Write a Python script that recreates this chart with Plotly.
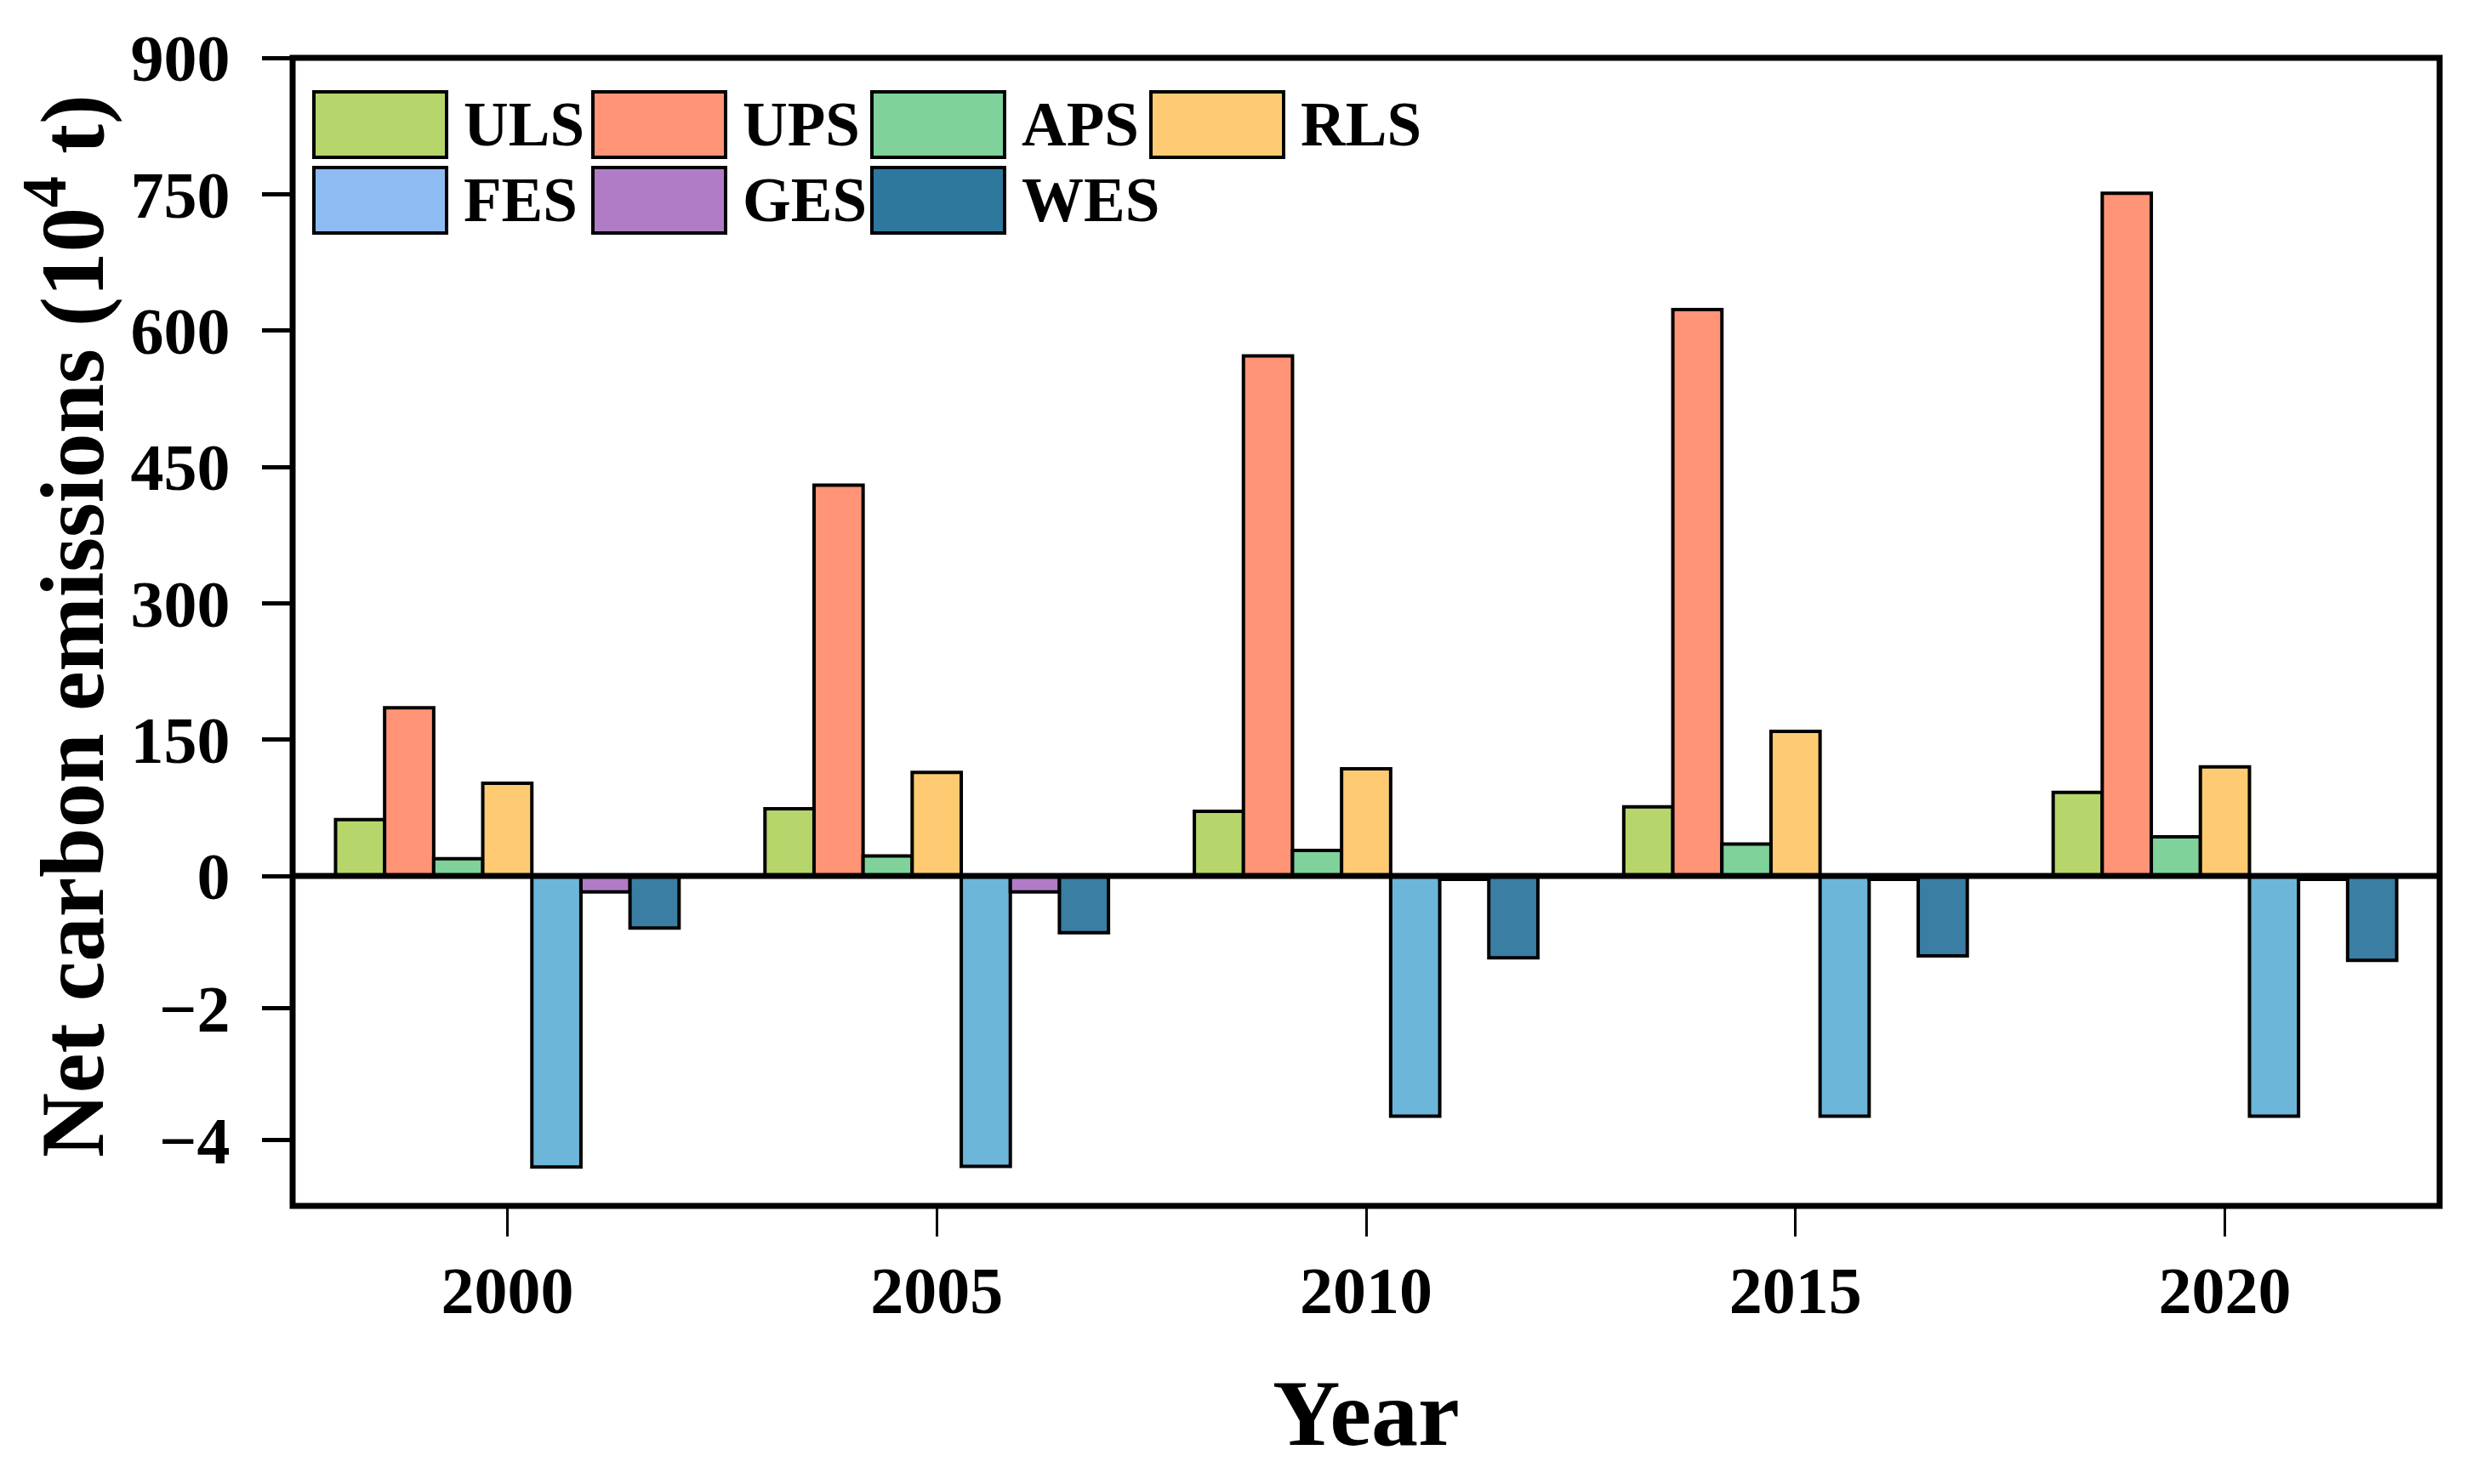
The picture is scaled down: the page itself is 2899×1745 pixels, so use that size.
import plotly.graph_objects as go

# ---------------- data ----------------
years = ["2000", "2005", "2010", "2015", "2020"]
series = ["ULS", "UPS", "APS", "RLS", "FES", "GES", "WES"]

ULS = [62, 74, 71, 76, 92]
UPS = [185, 430, 572, 623, 751]
APS = [19, 22, 28, 35, 43]
RLS = [102, 114, 118, 159, 120]
FES = [-4.41, -4.40, -3.64, -3.64, -3.64]
GES = [-0.24, -0.24, -0.05, -0.05, -0.05]
WES = [-0.79, -0.86, -1.24, -1.21, -1.28]

values = {"ULS": ULS, "UPS": UPS, "APS": APS, "RLS": RLS,
          "FES": FES, "GES": GES, "WES": WES}
positive_series = ["ULS", "UPS", "APS", "RLS"]
negative_series = ["FES", "GES", "WES"]

y_ticks_top = [0, 150, 300, 450, 600, 750, 900]
y_ticks_bottom = [-4, -2]

# ---------------- styles ----------------
bar_colors = {"ULS": "#B6D66B", "UPS": "#FF9477", "APS": "#7ED29A", "RLS": "#FECB72",
              "FES": "#6CB6DA", "GES": "#B07CC6", "WES": "#3A7EA3"}
legend_colors = {"ULS": "#B6D66B", "UPS": "#FF9477", "APS": "#7ED29A", "RLS": "#FECB72",
                 "FES": "#8DBBF2", "GES": "#B07CC6", "WES": "#2E789E"}

FONT = "Liberation Serif"
PAGE_MARGIN = 8          # default body margin of the html page
W, H = 2899 - 2 * PAGE_MARGIN, 1745 - 2 * PAGE_MARGIN
# target frame in window pixels: left 344, right 2868, top 68, bottom 1418
L = 344 - PAGE_MARGIN
T = 68 - PAGE_MARGIN
R = PAGE_MARGIN + W - 2868
B = PAGE_MARGIN + H - 1418
plot_w = W - L - R
plot_h = H - T - B
split = 0.2874  # fraction of plot height used by the negative part


def px_x(px):
    """window x pixel -> paper coordinate"""
    return (px - PAGE_MARGIN - L) / plot_w


def px_y(py):
    """window y pixel -> paper coordinate"""
    return (PAGE_MARGIN + H - B - py) / plot_h


fig = go.Figure()

n = len(series)
group_width = 0.8
bw = group_width / n
for i, s in enumerate(series):
    axis = "y" if s in positive_series else "y2"
    fig.add_trace(go.Bar(
        x=years, y=values[s], name=s, yaxis=axis, xaxis="x",
        width=bw, offset=-group_width / 2 + i * bw,
        marker=dict(color=bar_colors[s], line=dict(color="black", width=4)),
        showlegend=False,
    ))

tickfont = dict(family=FONT, size=78, color="black", weight="bold")

fig.update_layout(
    width=W, height=H,
    margin=dict(l=L, r=R, t=T, b=B, pad=0),
    plot_bgcolor="white", paper_bgcolor="white",
    barmode="overlay",
    font=dict(family=FONT, color="black"),
    xaxis=dict(
        anchor="y2", domain=[0, 1], type="category",
        range=[-0.5, 4.5], showgrid=False, zeroline=False,
        showline=False, ticks="outside", ticklen=35, tickwidth=3,
        tickcolor="black", tickfont=tickfont, ticklabelstandoff=-4,
    ),
    yaxis=dict(
        domain=[split, 1], range=[0, 900], tickmode="array", tickvals=y_ticks_top,
        showgrid=False, zeroline=False, showline=False,
        ticks="outside", ticklen=35, tickwidth=5, tickcolor="black",
        tickfont=tickfont, ticklabelstandoff=22, anchor="x",
    ),
    yaxis2=dict(
        domain=[0, split], range=[-5, 0], tickmode="array", tickvals=y_ticks_bottom,
        showgrid=False, zeroline=False, showline=False,
        ticks="outside", ticklen=35, tickwidth=5, tickcolor="black",
        tickfont=tickfont, ticklabelstandoff=22, anchor="x",
    ),
)

shapes = []
# frame
shapes.append(dict(type="rect", xref="paper", yref="paper", x0=0, x1=1, y0=0, y1=1,
                   line=dict(color="black", width=7), fillcolor="rgba(0,0,0,0)", layer="above"))
# zero line
shapes.append(dict(type="line", xref="paper", yref="paper", x0=0, x1=1, y0=split, y1=split,
                   line=dict(color="black", width=7), layer="above"))

annotations = []
# manual legend (large rectangles as in the reference)
box_x0, box_dx, box_w = 369, 328, 156
box_y0, box_dy, box_h = 108, 89, 77
for i, s in enumerate(series):
    row, col = divmod(i, 4)
    px0 = box_x0 + col * box_dx
    py0 = box_y0 + row * box_dy
    x0, x1 = px_x(px0), px_x(px0 + box_w)
    y1, y0 = px_y(py0), px_y(py0 + box_h)
    shapes.append(dict(type="rect", xref="paper", yref="paper", x0=x0, x1=x1, y0=y0, y1=y1,
                       line=dict(color="black", width=4), fillcolor=legend_colors[s], layer="above"))
    annotations.append(dict(text=s, xref="paper", yref="paper",
                            x=px_x(px0 + box_w + 18), y=(y0 + y1) / 2,
                            xanchor="left", yanchor="middle", showarrow=False,
                            font=dict(family=FONT, size=73, color="black", weight="bold")))

# axis titles
annotations.append(dict(text="Net carbon emissions (10<sup>4</sup> t)",
                        xref="paper", yref="paper", x=px_x(78), y=px_y(736),
                        xanchor="center", yanchor="middle", textangle=-90, showarrow=False,
                        font=dict(family=FONT, size=105, color="black", weight="bold")))
annotations.append(dict(text="Year", xref="paper", yref="paper",
                        x=0.5, y=px_y(1662),
                        xanchor="center", yanchor="middle", showarrow=False,
                        font=dict(family=FONT, size=110, color="black", weight="bold")))

fig.update_layout(shapes=shapes, annotations=annotations)

fig.write_html("out.html")
